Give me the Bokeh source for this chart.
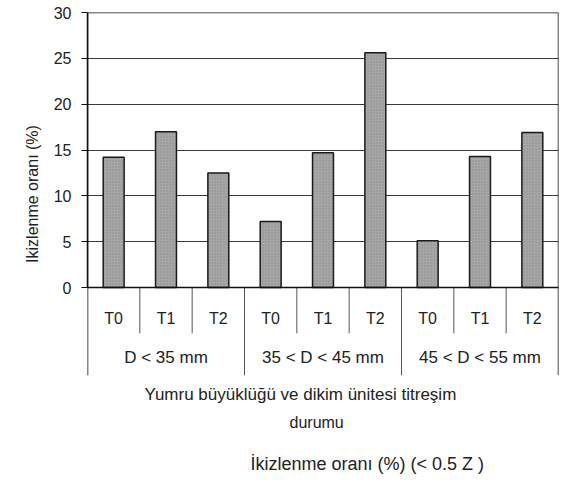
from bokeh.plotting import figure
from bokeh.models import (FactorRange, ColumnDataSource, Title, Range1d, FixedTicker, Span)
from bokeh.core.properties import value
from bokeh.embed import file_html
from bokeh.resources import INLINE

groups = ["D < 35 mm", "35 < D < 45 mm", "45 < D < 55 mm"]
treatments = ["T0", "T1", "T2"]
values = [14.2, 17.0, 12.5, 7.2, 14.7, 25.6, 5.1, 14.3, 16.9]
y_ticks = [0, 5, 10, 15, 20, 25, 30]

FONT = "Liberation Sans"
TXT = "#222222"

# layout constants (table rows below the value axis, in value units)
Y_TOP = 30
ROW1_BOTTOM = -5.0
ROW2_BOTTOM = -9.6
ROW1_TEXT = -3.4
ROW2_TEXT = -7.6

factors = [(g, t) for g in groups for t in treatments]
source = ColumnDataSource(data=dict(x=factors, top=values))

p = figure(width=568, height=495, output_backend="svg", toolbar_location=None,
           x_range=FactorRange(*factors, group_padding=0, factor_padding=0, range_padding=0),
           y_range=Range1d(ROW2_BOTTOM, Y_TOP))
p.min_border_left = 87
p.min_border_right = 10
p.min_border_top = 12
p.min_border_bottom = 118
p.outline_line_color = None
p.background_fill_color = "white"
p.border_fill_color = "white"

p.vbar(x="x", top="top", width=0.4, source=source,
       fill_color="#a6a6a6", line_color="#1a1a1a", line_width=1.5,
       hatch_pattern="dot", hatch_color="#707070", hatch_scale=3, hatch_alpha=0.5)

# grid
p.xgrid.grid_line_color = None
p.ygrid.grid_line_color = "#3a3a3a"
p.ygrid.grid_line_width = 1

# table separators (derived from the factors)
sub_x = [(g, t, -0.5) for g in groups for t in treatments[1:]]
p.segment(x0=sub_x, y0=[0] * len(sub_x), x1=sub_x, y1=[ROW1_BOTTOM] * len(sub_x),
          line_color="#555555", line_width=1)
grp_x = [(g, treatments[0], -0.5) for g in groups[1:]]
p.segment(x0=grp_x, y0=[0] * len(grp_x), x1=grp_x, y1=[ROW2_BOTTOM] * len(grp_x),
          line_color="#555555", line_width=1)
edge_x = [(groups[0], treatments[0], -0.5), (groups[-1], treatments[-1], 0.5)]
p.segment(x0=edge_x, y0=[ROW2_BOTTOM] * 2, x1=edge_x, y1=[Y_TOP] * 2,
          line_color="#111111", line_width=1.5)
p.add_layout(Span(location=Y_TOP, dimension="width", line_color="#111111", line_width=1.5))
p.add_layout(Span(location=0, dimension="width", line_color="#111111", line_width=1.5))

# table texts
p.text(x=factors, y=[ROW1_TEXT] * len(factors), text=[t for g, t in factors],
       text_align="center", text_baseline="middle", text_font=value(FONT),
       text_font_size="16px", text_color=TXT)
p.text(x=groups, y=[ROW2_TEXT] * len(groups), text=groups,
       text_align="center", text_baseline="middle", text_font=value(FONT),
       text_font_size="17px", text_color=TXT)

# y axis
ya = p.yaxis[0]
ya.ticker = FixedTicker(ticks=y_ticks)
ya.bounds = (0, Y_TOP)
ya.axis_line_color = "#111111"
ya.axis_line_width = 1.5
ya.major_tick_line_color = "#111111"
ya.major_tick_out = 6
ya.major_tick_in = 0
ya.minor_tick_line_color = None
ya.major_label_standoff = 10
ya.major_label_text_font = FONT
ya.major_label_text_font_size = "16px"
ya.major_label_text_color = TXT
ya.axis_label = "Ikizlenme oranı (%)"
ya.axis_label_text_font = FONT
ya.axis_label_text_font_size = "16px"
ya.axis_label_text_font_style = "normal"
ya.axis_label_text_color = TXT
ya.axis_label_standoff = 10

p.xaxis.visible = False

t1 = Title(text="Yumru büyüklüğü ve dikim ünitesi titreşim", align="left",
           text_font=FONT, text_font_size="17px", text_font_style="normal",
           text_color=TXT, offset=57, standoff=15)
t2 = Title(text="durumu", align="left",
           text_font=FONT, text_font_size="16px", text_font_style="normal",
           text_color=TXT, offset=202, standoff=0)
t3 = Title(text="İkizlenme oranı (%) (<  0.5 Z )", align="left",
           text_font=FONT, text_font_size="18px", text_font_style="normal",
           text_color=TXT, offset=163, standoff=43)
p.add_layout(t1, "below")
p.add_layout(t2, "below")
p.add_layout(t3, "below")

open("out.html", "w").write(file_html(p, INLINE))
